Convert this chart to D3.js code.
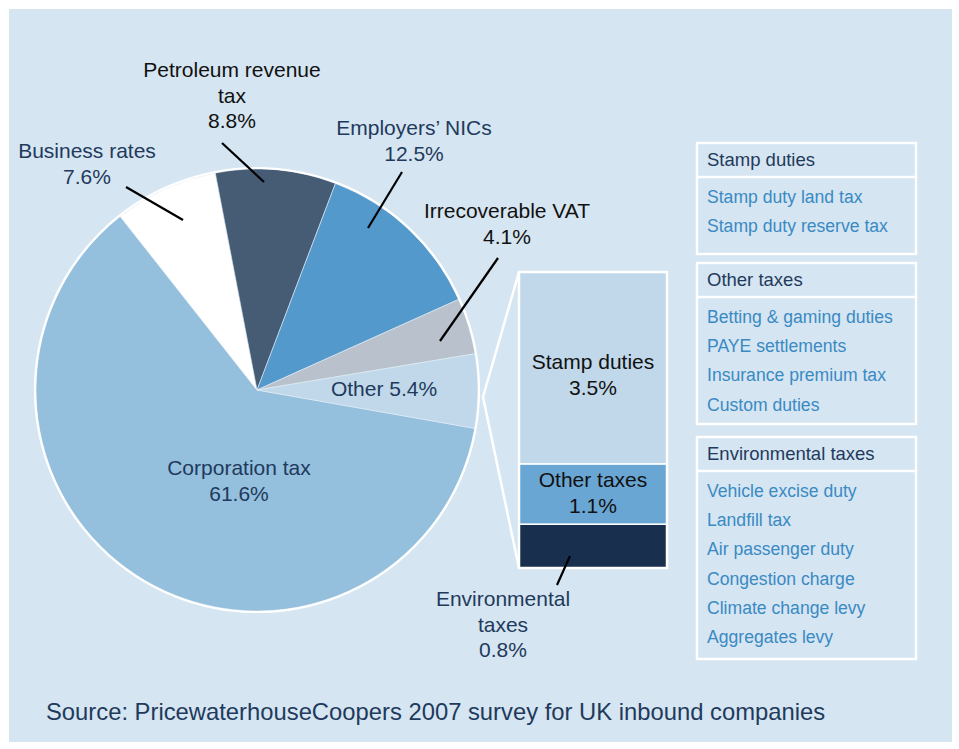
<!DOCTYPE html>
<html>
<head>
<meta charset="utf-8">
<script src="https://cdn.jsdelivr.net/npm/d3@7"></script>
<style>
  body { margin: 0; background: #fff; }
  text { font-family: "Liberation Sans", Arial, Helvetica, sans-serif; }
</style>
</head>
<body>
<div id="chart"></div>
<script>
// pie data
const slices = ["Corporation tax", "Business rates", "Petroleum revenue tax", "Employers’ NICs", "Irrecoverable VAT", "Other"];
const shares = [61.6, 7.6, 8.8, 12.5, 4.1, 5.4];

// breakdown of "Other"
const otherParts = ["Environmental taxes", "Other taxes", "Stamp duties"];
const otherShares = [0.8, 1.1, 3.5];

// legend lists
const stampItems = ["Stamp duty land tax", "Stamp duty reserve tax"];
const otherTaxItems = ["Betting & gaming duties", "PAYE settlements", "Insurance premium tax", "Custom duties"];
const envItems = ["Vehicle excise duty", "Landfill tax", "Air passenger duty", "Congestion charge", "Climate change levy", "Aggregates levy"];

(function taxChart() {
  const width = 959, height = 749;
  const cx = 257, cy = 390, r = 221;
  const navy = "#1f3a5c";

  const svg = d3.select("#chart").append("svg")
    .attr("width", width).attr("height", height);

  svg.append("rect")
    .attr("x", 9).attr("y", 9)
    .attr("width", 943).attr("height", 733)
    .attr("fill", "#d5e5f1");

  const color = d3.scaleOrdinal(slices, ["#94bfdd", "#ffffff", "#465b74", "#5499cb", "#b9c2cc", "#c0d8ea"]);

  const pie = d3.pie().sort(null)
    .startAngle(100 * Math.PI / 180)
    .endAngle(460 * Math.PI / 180);
  const arcs = pie(shares);
  const arc = d3.arc().innerRadius(0).outerRadius(r);

  const g = svg.append("g").attr("transform", `translate(${cx},${cy})`);

  g.selectAll("path")
    .data(arcs)
    .join("path")
    .attr("d", arc)
    .attr("fill", (d, i) => color(slices[i]))
    .attr("stroke", "#e4eef6")
    .attr("stroke-width", 0.6);

  g.append("circle")
    .attr("r", r + 1)
    .attr("fill", "none")
    .attr("stroke", "white")
    .attr("stroke-width", 2.2);

  // connector from pie to the breakdown bar
  const bx0 = 519, bx1 = 667;
  const y = d3.scaleLinear([0, d3.sum(otherShares)], [568, 272]);

  svg.append("path")
    .attr("d", `M${bx0},${y.range()[1]} L483,397 L${bx0},${y.range()[0]}`)
    .attr("fill", "none")
    .attr("stroke", "white")
    .attr("stroke-width", 2.5)
    .attr("stroke-linejoin", "miter");

  const stackColor = d3.scaleOrdinal(otherParts, ["#18304d", "#69a6d3", "#c0d8ea"]);
  let acc = 0;
  const stacked = otherShares.map((v, i) => {
    const s = { key: otherParts[i], v0: acc, v1: acc + v, value: v };
    acc += v;
    return s;
  });

  svg.append("g")
    .selectAll("rect")
    .data(stacked)
    .join("rect")
    .attr("x", bx0)
    .attr("y", d => y(d.v1))
    .attr("width", bx1 - bx0)
    .attr("height", d => y(d.v0) - y(d.v1))
    .attr("fill", d => stackColor(d.key))
    .attr("stroke", "white")
    .attr("stroke-width", 1.5);

  svg.append("rect")
    .attr("x", bx0).attr("y", y.range()[1])
    .attr("width", bx1 - bx0)
    .attr("height", y.range()[0] - y.range()[1])
    .attr("fill", "none")
    .attr("stroke", "white")
    .attr("stroke-width", 2.5);

  const fs = 21;
  function label(lines, x, yy, fill) {
    const t = svg.append("text")
      .attr("text-anchor", "middle")
      .attr("font-size", fs)
      .attr("fill", fill);
    lines.forEach((l, i) => {
      t.append("tspan").attr("x", x).attr("y", yy + i * 25.5).attr("dy", "0.35em").text(l);
    });
  }
  const pct = v => v.toFixed(1) + "%";

  // pie labels
  label([slices[0], pct(shares[0])], 239, 468, navy);
  label([slices[1], pct(shares[1])], 87, 151, navy);
  label(["Petroleum revenue", "tax", pct(shares[2])], 232, 70, "#111");
  label([slices[3], pct(shares[3])], 414, 128, navy);
  label([slices[4], pct(shares[4])], 507, 211, "#111");
  label([slices[5] + " " + pct(shares[5])], 384, 389, navy);

  // stack labels
  const mid = (bx0 + bx1) / 2;
  label([otherParts[2], pct(otherShares[2])], mid, (y(stacked[2].v0) + y(stacked[2].v1)) / 2 - 6, "#111");
  label([otherParts[1], pct(otherShares[1])], mid, (y(stacked[1].v0) + y(stacked[1].v1)) / 2 - 14, "#111");
  label(["Environmental", "taxes", pct(otherShares[0])], 503, 599, navy);

  // leader lines
  const leaders = [
    [126, 187, 183, 220],
    [222, 143, 264, 182],
    [402, 172, 368, 228],
    [498, 258, 440, 341],
    [570, 556, 557, 585]
  ];
  svg.append("g")
    .selectAll("line")
    .data(leaders)
    .join("line")
    .attr("x1", d => d[0]).attr("y1", d => d[1])
    .attr("x2", d => d[2]).attr("y2", d => d[3])
    .attr("stroke", "#000")
    .attr("stroke-width", 2.2);

  // legend boxes
  const boxes = [
    { title: "Stamp duties", items: stampItems, top: 143, bottom: 254 },
    { title: "Other taxes", items: otherTaxItems, top: 263, bottom: 424 },
    { title: "Environmental taxes", items: envItems, top: 437, bottom: 659 }
  ];
  const lx0 = 697, lx1 = 916;
  boxes.forEach(b => {
    const bg = svg.append("g");
    bg.append("rect")
      .attr("x", lx0).attr("y", b.top)
      .attr("width", lx1 - lx0).attr("height", b.bottom - b.top)
      .attr("fill", "none")
      .attr("stroke", "white")
      .attr("stroke-width", 2.5);
    bg.append("line")
      .attr("x1", lx0).attr("x2", lx1)
      .attr("y1", b.top + 34).attr("y2", b.top + 34)
      .attr("stroke", "white")
      .attr("stroke-width", 2.5);
    bg.append("text")
      .attr("x", lx0 + 10).attr("y", b.top + 23)
      .attr("font-size", 18.5)
      .attr("fill", navy)
      .text(b.title);
    bg.selectAll(".item")
      .data(b.items)
      .join("text")
      .attr("class", "item")
      .attr("x", lx0 + 10)
      .attr("y", (d, i) => b.top + 60 + i * 29.2)
      .attr("font-size", 17.6)
      .attr("fill", "#3a8ac4")
      .text(d => d);
  });

  svg.append("text")
    .attr("x", 46).attr("y", 720)
    .attr("font-size", 23.8)
    .attr("fill", navy)
    .text("Source: PricewaterhouseCoopers 2007 survey for UK inbound companies");
})();
</script>
</body>
</html>
